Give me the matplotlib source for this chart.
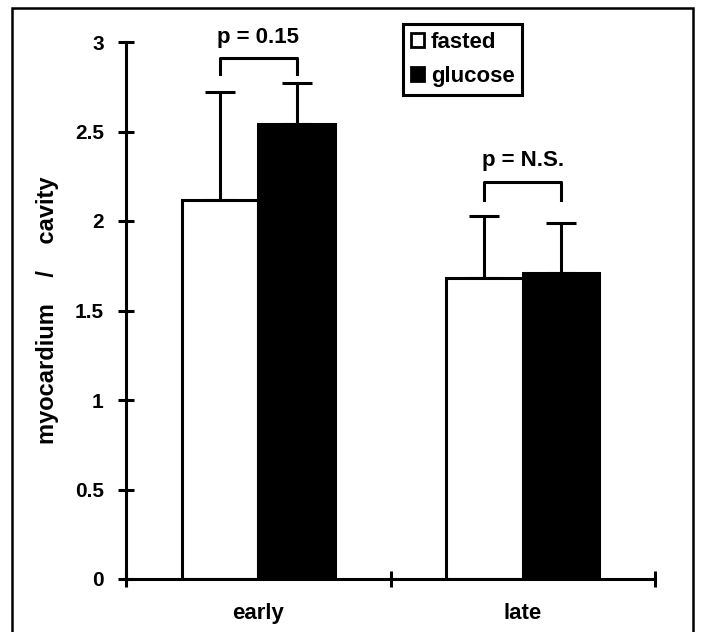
import matplotlib.pyplot as plt
from matplotlib.patches import Patch, Rectangle

plt.rcParams['font.family'] = ['Liberation Sans', 'DejaVu Sans']
plt.rcParams['font.weight'] = 'bold'

# data
groups = ['early', 'late']
fasted = [2.12, 1.68]
fasted_err = [0.60, 0.35]
glucose = [2.54, 1.71]
glucose_err = [0.23, 0.28]
p_labels = ['p = 0.15', 'p = N.S.']
bracket_top = [2.91, 2.22]
bracket_low = [2.82, 2.12]

W, H = 701, 632
fig = plt.figure(figsize=(W / 100, H / 100), dpi=100)
ax = fig.add_axes([126 / W, (H - 579) / H, (655 - 126) / W, (579 - 42) / H])

w = 0.29
centers = [0.5, 1.5]
xf = [c - w / 2 for c in centers]
xg = [c + w / 2 for c in centers]

ax.bar(xf, fasted, width=w, color='white', edgecolor='black', linewidth=2.2, zorder=2)
ax.bar(xg, glucose, width=w, color='black', edgecolor='black', linewidth=2.2, zorder=2)

# one-sided error bars
ax.errorbar(xf, fasted, yerr=[[0, 0], fasted_err], fmt='none', ecolor='black',
            elinewidth=2.2, capsize=11, capthick=2.2, zorder=1)
ax.errorbar(xg, glucose, yerr=[[0, 0], glucose_err], fmt='none', ecolor='black',
            elinewidth=2.2, capsize=11, capthick=2.2, zorder=1)

# significance brackets
for i in range(2):
    ax.plot([xf[i], xf[i], xg[i], xg[i]],
            [bracket_low[i], bracket_top[i], bracket_top[i], bracket_low[i]],
            color='black', lw=2.2, clip_on=False)
    ax.text(centers[i], bracket_top[i] + 0.085, p_labels[i], ha='center', va='baseline',
            fontsize=16, fontweight='bold')

ax.set_xlim(0, 2)
ax.set_ylim(0, 3)
ax.set_yticks([0, 0.5, 1, 1.5, 2, 2.5, 3])
ax.set_yticklabels(['0', '0.5', '1', '1.5', '2', '2.5', '3'])
ax.set_xticks([0, 1, 2])
ax.set_xticklabels([])
ax.set_xticks(centers, minor=True)
ax.set_xticklabels(groups, minor=True)
ax.tick_params(axis='x', which='minor', length=0, pad=17, labelsize=16)
ax.tick_params(axis='both', which='major', direction='inout', length=12, width=2.2,
               labelsize=15)
ax.tick_params(axis='y', pad=10)

for s in ['top', 'right']:
    ax.spines[s].set_visible(False)
for s in ['left', 'bottom']:
    ax.spines[s].set_linewidth(2.2)

ax.set_ylabel('myocardium    /    cavity', fontsize=17, fontweight='bold', labelpad=11)

handles = [Patch(facecolor='white', edgecolor='black', linewidth=2),
           Patch(facecolor='black', edgecolor='black', linewidth=2)]
leg = ax.legend(handles, ['fasted', 'glucose'], loc='upper left',
                bbox_to_anchor=(403 / W, 1 - 24 / H), bbox_transform=fig.transFigure,
                fancybox=False, framealpha=1, edgecolor='black', fontsize=16,
                handlelength=0.6, handleheight=0.6, handletextpad=0.3,
                borderpad=0.35, borderaxespad=0, labelspacing=0.6)
leg.get_frame().set_linewidth(2.2)
for t in leg.get_texts():
    t.set_fontweight('bold')

# outer frame around the panel
fig.patches.append(Rectangle((12 / W, -0.05), (693 - 12) / W, 1.05 - 8 / H,
                             transform=fig.transFigure, fill=False,
                             edgecolor='black', linewidth=1.8))

fig.savefig('out.png', dpi=100)
